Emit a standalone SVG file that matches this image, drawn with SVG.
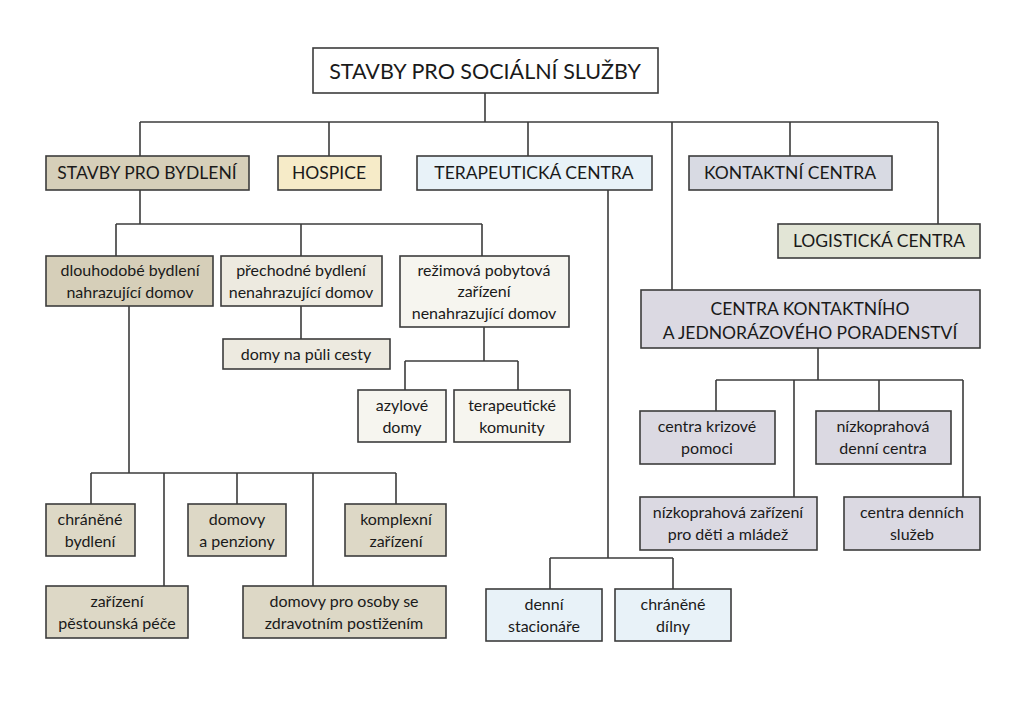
<svg xmlns="http://www.w3.org/2000/svg" width="1024" height="715" viewBox="0 0 1024 715">
<style>
.b{stroke:#3c3c3c;stroke-width:1.6}
.w{fill:#ffffff}
.k1{fill:#d6cfb9}
.k2{fill:#ddd8c6}
.k3{fill:#edeae0}
.k4{fill:#f6f5ef}
.hs{fill:#f6ebc8}
.tb{fill:#e8f2f8}
.kc{fill:#d8dae3}
.lg{fill:#e2e5d6}
.cp{fill:#dbd9e2}
text{font-family:Lato,"Open Sans","Liberation Sans",sans-serif;fill:#1a1a1a;text-anchor:middle}
.t0{font-size:21.5px}
.t1{font-size:17.5px}
.t2{font-size:16px}
.c{fill:none;stroke:#3c3c3c;stroke-width:1.6}
</style>
<rect width="1024" height="715" fill="#ffffff"/>
<g id="connectors">
<path class="c" d="M485 93V122M140 122H938M140 122V156M329 122V156M528 122V156M672 122V290M790 122V156M938 122V224"/>
<path class="c" d="M140 190V224M116 224H482M116 224V256M301 224V256M482 224V256"/>
<path class="c" d="M301 306V339M484 327V361M405 361H518M405 361V390M518 361V390"/>
<path class="c" d="M129 306V473M91 473H396M91 473V504M164 473V586M237 473V504M313 473V586M396 473V504"/>
<path class="c" d="M608 190V558M550 558H673M550 558V589M673 558V589"/>
<path class="c" d="M818 348V380M716 380H963M716 380V411M794 380V497M879 380V411M963 380V497"/>
</g>
<g id="root"><rect class="b w" x="313" y="48" width="345" height="45"/><text class="t0" x="485" y="79">STAVBY PRO SOCIÁLNÍ SLUŽBY</text></g>
<g id="bydleni"><rect class="b k1" x="46" y="156" width="203" height="34"/><text class="t1" x="147" y="179">STAVBY PRO BYDLENÍ</text></g>
<g id="hospice"><rect class="b hs" x="278" y="156" width="103" height="34"/><text class="t1" x="329" y="179">HOSPICE</text></g>
<g id="terapeuticka"><rect class="b tb" x="417" y="156" width="235" height="34"/><text class="t1" x="534" y="179">TERAPEUTICKÁ CENTRA</text></g>
<g id="kontaktni"><rect class="b kc" x="689" y="156" width="203" height="34"/><text class="t1" x="790" y="179">KONTAKTNÍ CENTRA</text></g>
<g id="logisticka"><rect class="b lg" x="778" y="224" width="202" height="34"/><text class="t1" x="879" y="247">LOGISTICKÁ CENTRA</text></g>
<g id="poradenstvi"><rect class="b cp" x="641" y="290" width="339" height="58"/><text class="t1" x="810" y="315">CENTRA KONTAKTNÍHO</text><text class="t1" x="810" y="339">A JEDNORÁZOVÉHO PORADENSTVÍ</text></g>
<g id="dlouhodobe"><rect class="b k1" x="46" y="256" width="167" height="50"/><text class="t2" x="130" y="276">dlouhodobé bydlení</text><text class="t2" x="130" y="298">nahrazující domov</text></g>
<g id="prechodne"><rect class="b k3" x="221" y="256" width="161" height="50"/><text class="t2" x="301" y="276">přechodné bydlení</text><text class="t2" x="301" y="298">nenahrazující domov</text></g>
<g id="rezimova"><rect class="b k4" x="400" y="256" width="169" height="71"/><text class="t2" x="484" y="276">režimová pobytová</text><text class="t2" x="484" y="297">zařízení</text><text class="t2" x="484" y="319">nenahrazující domov</text></g>
<g id="domy-puli"><rect class="b k3" x="223" y="339" width="167" height="30"/><text class="t2" x="306" y="360">domy na půli cesty</text></g>
<g id="azylove"><rect class="b k4" x="358" y="390" width="88" height="52"/><text class="t2" x="402" y="411">azylové</text><text class="t2" x="402" y="433">domy</text></g>
<g id="komunity"><rect class="b k4" x="454" y="390" width="116" height="52"/><text class="t2" x="512" y="411">terapeutické</text><text class="t2" x="512" y="433">komunity</text></g>
<g id="chranene-bydleni"><rect class="b k2" x="46" y="504" width="89" height="52"/><text class="t2" x="90" y="525">chráněné</text><text class="t2" x="90" y="547">bydlení</text></g>
<g id="domovy-penziony"><rect class="b k2" x="188" y="504" width="98" height="52"/><text class="t2" x="237" y="525">domovy</text><text class="t2" x="237" y="547">a penziony</text></g>
<g id="komplexni"><rect class="b k2" x="345" y="504" width="101" height="52"/><text class="t2" x="396" y="525">komplexní</text><text class="t2" x="396" y="547">zařízení</text></g>
<g id="pestounska"><rect class="b k2" x="46" y="586" width="142" height="52"/><text class="t2" x="117" y="607">zařízení</text><text class="t2" x="117" y="629">pěstounská péče</text></g>
<g id="postizeni"><rect class="b k2" x="243" y="586" width="203" height="52"/><text class="t2" x="344" y="607">domovy pro osoby se</text><text class="t2" x="344" y="629">zdravotním postižením</text></g>
<g id="stacionare"><rect class="b tb" x="486" y="589" width="116" height="52"/><text class="t2" x="544" y="610">denní</text><text class="t2" x="544" y="632">stacionáře</text></g>
<g id="dilny"><rect class="b tb" x="615" y="589" width="116" height="52"/><text class="t2" x="673" y="610">chráněné</text><text class="t2" x="673" y="632">dílny</text></g>
<g id="krizove"><rect class="b cp" x="640" y="411" width="135" height="53"/><text class="t2" x="707" y="432">centra krizové</text><text class="t2" x="707" y="454">pomoci</text></g>
<g id="denni-centra"><rect class="b cp" x="816" y="411" width="135" height="53"/><text class="t2" x="883" y="432">nízkoprahová</text><text class="t2" x="883" y="454">denní centra</text></g>
<g id="deti-mladez"><rect class="b cp" x="640" y="497" width="177" height="53"/><text class="t2" x="728" y="518">nízkoprahová zařízení</text><text class="t2" x="728" y="540">pro děti a mládež</text></g>
<g id="denni-sluzby"><rect class="b cp" x="844" y="497" width="136" height="53"/><text class="t2" x="912" y="518">centra denních</text><text class="t2" x="912" y="540">služeb</text></g>
</svg>
